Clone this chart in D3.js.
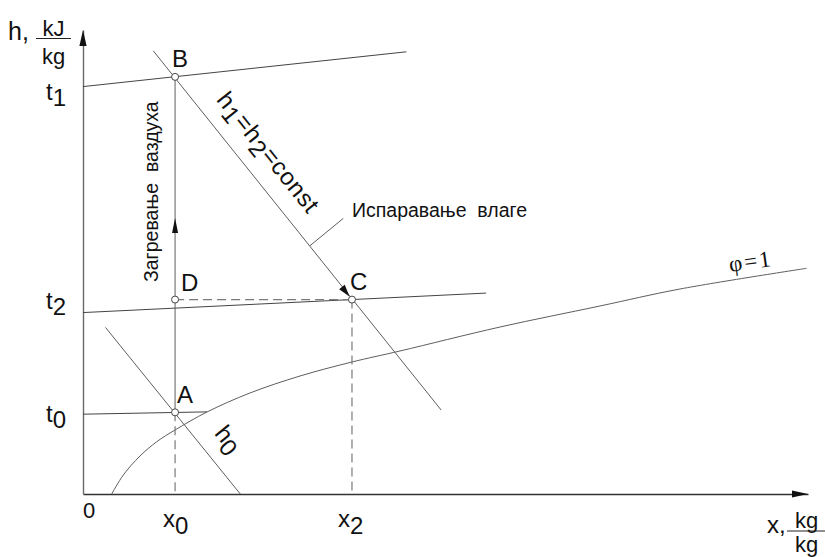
<!DOCTYPE html>
<html>
<head>
<meta charset="utf-8">
<script src="https://cdn.jsdelivr.net/npm/d3@7"></script>
<style>
  html, body { margin: 0; padding: 0; background: #fff; }
  svg { display: block; font-family: Arial, "Liberation Sans", sans-serif; }
  text { fill: #111; }
</style>
</head>
<body>
<svg id="chart" width="825" height="557"></svg>
<script>
// Schematic h-x diagram: moisture content x and enthalpy h (relative units)
const xDomain = [0, 100];
const hDomain = [0, 100];

// Process state points
const pointNames = ["A", "B", "C", "D"];
const pointX = [12.7, 12.7, 37.1, 12.7];
const pointH = [17.6, 89.9, 41.9, 41.9];

// Isotherms t0, t1, t2: start on the h axis, end at (isoEndX, isoEndH)
const isoNames = ["t", "t", "t"];
const isoSubs = ["0", "1", "2"];
const isoStartH = [17.2, 87.8, 39.1];
const isoEndX = [17.1, 44.6, 55.6];
const isoEndH = [17.7, 95.3, 43.3];

// Lines of constant enthalpy: h1 = h2 = const, and h0 through A
const hConstX = [9.7, 49.4];
const hConstH = [95.5, 18.1];
const h0X = [3.1, 21.7];
const h0H = [35.9, 0];

// Saturation curve, phi = 1
const satX = [3.96, 5.56, 7.86, 10.17, 12.69, 17.10, 23.03, 29.93, 37.10, 43.72, 57.52, 71.31, 82.34, 99.82];
const satH = [0, 4.09, 8.19, 11.27, 13.79, 17.67, 21.77, 25.43, 28.45, 30.82, 35.99, 40.52, 44.18, 48.64];

// Heating arrow position on A-B and the leader line for the evaporation note
const heatArrowH = 59.5;
const leaderX = [31.3, 35.9];
const leaderH = [53.5, 59.4];

// Text
const heatingText = "Загревање  ваздуха";
const evaporationText = "Испаравање  влаге";
const hConstParts = [["h", ""], ["1", "sub"], ["=h", ""], ["2", "sub"], ["=const", ""]];

const svg = d3.select("#chart");
const x = d3.scaleLinear().domain(xDomain).range([83, 808]);
const y = d3.scaleLinear().domain(hDomain).range([494, 30]);

const LINE = "#5e5e5e";
const line = d3.line().x(d => x(d[0])).y(d => y(d[1]));
const zip = (xs, hs) => xs.map((v, i) => [v, hs[i]]);

function arrowHead(tip, dir, len, hw) {
  const [dx, dy] = dir;
  const bx = tip[0] - dx * len, by = tip[1] - dy * len;
  const nx = -dy, ny = dx;
  return `M${tip[0]},${tip[1]}L${bx + nx * hw},${by + ny * hw}L${bx - nx * hw},${by - ny * hw}Z`;
}

// Axes (plain lines with arrowheads)
const gx = svg.append("g").attr("transform", `translate(0,${y(0)})`)
  .call(d3.axisBottom(x).tickValues([]).tickSizeOuter(0));
gx.select(".domain").attr("stroke", "#333").attr("stroke-width", 1.4);
const gy = svg.append("g").attr("transform", `translate(${x(0)},0)`)
  .call(d3.axisLeft(y).tickValues([]).tickSizeOuter(0));
gy.select(".domain").attr("stroke", "#6a6a6a").attr("stroke-width", 1.4);

svg.append("path").attr("d", arrowHead([x(xDomain[1]), y(0)], [1, 0], 16, 3.6)).attr("fill", "#111");
svg.append("path").attr("d", arrowHead([x(0), y(hDomain[1])], [0, -1], 16, 3.6)).attr("fill", "#111");

// Saturation curve
svg.append("path")
  .attr("d", line.curve(d3.curveCatmullRom.alpha(0.5))(zip(satX, satH)))
  .attr("fill", "none").attr("stroke", LINE).attr("stroke-width", 1);
line.curve(d3.curveLinear);

// Isotherms
isoStartH.forEach((h0v, i) => {
  svg.append("path")
    .attr("d", line([[0, h0v], [isoEndX[i], isoEndH[i]]]))
    .attr("fill", "none").attr("stroke", "#444").attr("stroke-width", 1);
});

// Constant enthalpy lines
svg.append("path").attr("d", line(zip(hConstX, hConstH)))
  .attr("fill", "none").attr("stroke", LINE).attr("stroke-width", 1);
svg.append("path").attr("d", line(zip(h0X, h0H)))
  .attr("fill", "none").attr("stroke", LINE).attr("stroke-width", 1);

// Leader line
svg.append("path").attr("d", line(zip(leaderX, leaderH)))
  .attr("fill", "none").attr("stroke", LINE).attr("stroke-width", 1);

const iA = 0, iB = 1, iC = 2, iD = 3;

// Heating A -> B (solid) with direction arrow
svg.append("path").attr("d", line([[pointX[iA], pointH[iA]], [pointX[iB], pointH[iB]]]))
  .attr("fill", "none").attr("stroke", LINE).attr("stroke-width", 1);
svg.append("path").attr("d", arrowHead([x(pointX[iA]), y(heatArrowH)], [0, -1], 15, 3)).attr("fill", "#111");

// Dashed guides: D -> C, and the drops to the x axis
const dashed = (pts) => svg.append("path").attr("d", line(pts))
  .attr("fill", "none").attr("stroke", "#7a7a7a").attr("stroke-width", 1.2).attr("stroke-dasharray", "9,5");
dashed([[pointX[iD], pointH[iD]], [pointX[iC], pointH[iC]]]);
dashed([[pointX[iC], pointH[iC]], [pointX[iC], 0]]);
dashed([[pointX[iA], pointH[iA]], [pointX[iA], 0]]);

// Evaporation arrow along h = const, ending at C
const hcx0 = x(hConstX[0]), hcy0 = y(hConstH[0]), hcx1 = x(hConstX[1]), hcy1 = y(hConstH[1]);
const hcLen = Math.hypot(hcx1 - hcx0, hcy1 - hcy0);
const dC = [(hcx1 - hcx0) / hcLen, (hcy1 - hcy0) / hcLen];
const cPx = [x(pointX[iC]), y(pointH[iC])];
svg.append("path").attr("d", arrowHead([cPx[0] - dC[0] * 4, cPx[1] - dC[1] * 4], dC, 12, 3.6)).attr("fill", "#111");

// State point markers
pointNames.forEach((n, i) => {
  svg.append("circle").attr("cx", x(pointX[i])).attr("cy", y(pointH[i])).attr("r", 3.5)
    .attr("fill", "#fff").attr("stroke", "#444").attr("stroke-width", 1);
});

// State point labels
const ptLabelOffset = { A: [2, -9], B: [-3, -10], C: [-2, -10], D: [6, -9] };
pointNames.forEach((n, i) => {
  svg.append("text").attr("x", x(pointX[i]) + ptLabelOffset[n][0]).attr("y", y(pointH[i]) + ptLabelOffset[n][1])
    .attr("font-size", 24).text(n);
});

// Labels with subscripts
function subLabel(px, py, main, sub, size, sdy) {
  const t = svg.append("text").attr("x", px).attr("y", py).attr("font-size", size);
  t.append("tspan").text(main);
  t.append("tspan").attr("dy", sdy).text(sub);
  return t;
}

// Isotherm labels on the h axis
const isoLabelDy = [7.5, 13.5, -3.5];
isoStartH.forEach((hv, i) => subLabel(46, y(hv) + isoLabelDy[i], isoNames[i], isoSubs[i], 24, 6));

// x axis labels
svg.append("text").attr("x", x(0)).attr("y", 518).attr("font-size", 22).text("0");
subLabel(x(pointX[iA]) - 12, 527, "x", "0", 24, 7);
subLabel(x(pointX[iC]) - 14, 527, "x", "2", 24, 7);

// Axis titles with fractional units
function fracTitle(lx, ly, lead, leadSize, num, den, fx0, fx1, fy, size, denGap) {
  svg.append("text").attr("x", lx).attr("y", ly).attr("font-size", leadSize).text(lead);
  const cx = (fx0 + fx1) / 2;
  svg.append("text").attr("x", cx).attr("y", fy - 3).attr("font-size", size).attr("text-anchor", "middle").text(num);
  svg.append("text").attr("x", cx).attr("y", fy + denGap).attr("font-size", size).attr("text-anchor", "middle").text(den);
  svg.append("line").attr("x1", fx0).attr("x2", fx1).attr("y1", fy).attr("y2", fy)
    .attr("stroke", "#222").attr("stroke-width", 1);
}
fracTitle(8, 39.5, "h,", 25, "kJ", "kg", 36, 71, 38.5, 22, 25);
fracTitle(767, 533, "x,", 24, "kg", "kg", 787, 826, 531, 22, 21);

// Rotated labels along the enthalpy lines
function alongLabel(origin, p0, p1, s0, n0, build) {
  const dx = p1[0] - p0[0], dy = p1[1] - p0[1];
  const L = Math.hypot(dx, dy);
  const d = [dx / L, dy / L], nrm = [d[1], -d[0]];
  const ax = origin[0] + d[0] * s0 + nrm[0] * n0;
  const ay = origin[1] + d[1] * s0 + nrm[1] * n0;
  const ang = Math.atan2(dy, dx) * 180 / Math.PI;
  const t = svg.append("text").attr("transform", `translate(${ax},${ay}) rotate(${ang})`);
  build(t);
}

alongLabel([x(pointX[iB]), y(pointH[iB])], [hcx0, hcy0], [hcx1, hcy1], 43.5, 17.3, t => {
  t.attr("font-size", 24).attr("letter-spacing", 0.8);
  hConstParts.forEach(([s, kind], k) => {
    const sp = t.append("tspan").text(s);
    if (kind === "sub") sp.attr("dy", 6);
    else if (k > 0) sp.attr("dy", -6);
  });
});

alongLabel([x(pointX[iA]), y(pointH[iA])], [x(h0X[0]), y(h0H[0])], [x(h0X[1]), y(h0H[1])], 41, 16.7, t => {
  t.attr("font-size", 24);
  t.append("tspan").text("h");
  t.append("tspan").attr("dy", 6).text("0");
});

// Process notes
svg.append("text")
  .attr("transform", `translate(157.5,282) rotate(-90)`)
  .attr("font-size", 19.5).style("white-space", "pre").text(heatingText);
svg.append("text").attr("x", 352).attr("y", 216.5)
  .attr("font-size", 19.5).style("white-space", "pre").text(evaporationText);

// phi = 1 label on the saturation curve
svg.append("text")
  .attr("transform", `translate(730,272) rotate(-8)`)
  .attr("font-family", "'Liberation Serif', 'Times New Roman', serif")
  .attr("font-size", 23).attr("letter-spacing", 2).text("φ=1");
</script>
</body>
</html>
